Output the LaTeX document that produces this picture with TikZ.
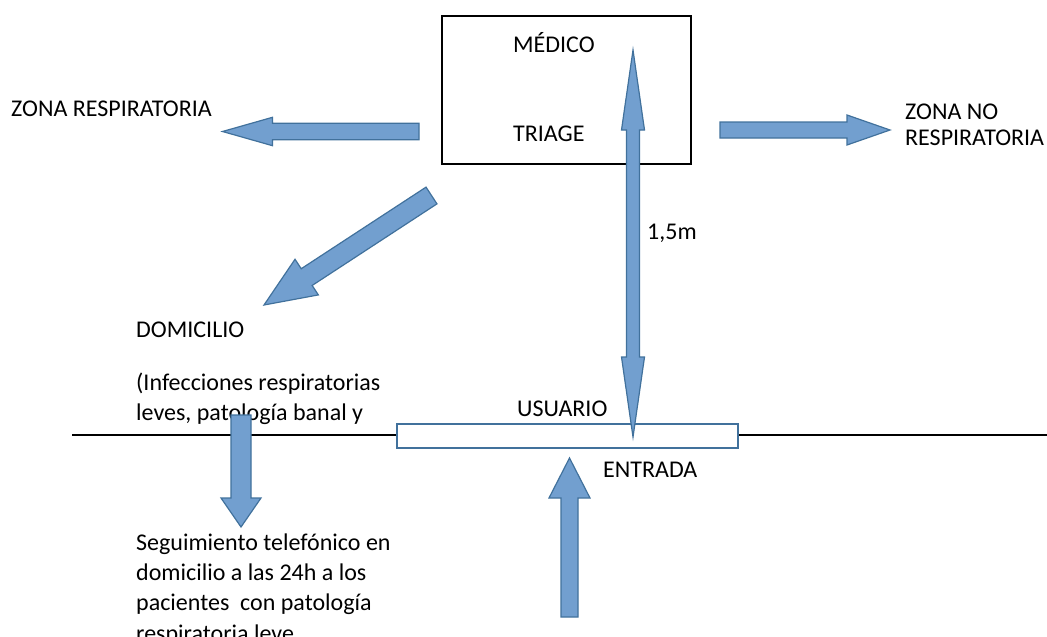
\documentclass[tikz,border=0pt]{standalone}
\usepackage{fontspec}
\setmainfont{Carlito}
\usetikzlibrary{calc}
\definecolor{arrfill}{HTML}{729FCF}
\definecolor{arrline}{HTML}{41719C}
\tikzset{
  lbl/.style={inner sep=0pt, anchor=base west, font=\fontsize{24}{29}\selectfont},
  barrow/.style={fill=arrfill, draw=arrline, line width=1.2pt, line join=miter},
  triagebox/.style={draw=black, line width=1.3pt, minimum width=249pt, minimum height=148pt, inner sep=0pt},
  entrybox/.style={draw=arrline, fill=white, line width=1.2pt, minimum width=341pt, minimum height=24pt, inner sep=0pt},
}
\newcommand\blockarrow[5]{%
  \coordinate (bhH) at ($(#2)!#5!(#1)$);
  \path[barrow] ($(#1)!#3!90:(#2)$) -- ($(bhH)!#3!90:(#2)$) -- ($(bhH)!#4!90:(#2)$) -- (#2)
    -- ($(bhH)!#4!-90:(#2)$) -- ($(bhH)!#3!-90:(#2)$) -- ($(#1)!#3!-90:(#2)$) -- cycle;}
\newcommand\dblarrow[5]{%
  \coordinate (dhA) at ($(#1)!#5!(#2)$);
  \coordinate (dhB) at ($(#2)!#5!(#1)$);
  \path[barrow] (#1) -- ($(dhA)!#4!90:(#2)$) -- ($(dhA)!#3!90:(#2)$) -- ($(dhB)!#3!-90:(#1)$)
    -- ($(dhB)!#4!-90:(#1)$) -- (#2) -- ($(dhB)!#4!90:(#1)$) -- ($(dhB)!#3!90:(#1)$)
    -- ($(dhA)!#3!-90:(#2)$) -- ($(dhA)!#4!-90:(#2)$) -- cycle;}
\begin{document}
\begin{tikzpicture}[x=1pt, y=-1pt]
\useasboundingbox (0,0) rectangle (1047,637);

% triage box
\node[triagebox] (triage) at (566.5,90) {};
\node[lbl] (medico) at (513,52) {MÉDICO};
\node[lbl] (triagetxt) at (513,141) {TRIAGE};

% side labels
\node[lbl] (zonaresp) at (11,116.5) {ZONA RESPIRATORIA};
\node[lbl] (zonano1) at (905,119) {ZONA NO};
\node[lbl] (zonano2) at (905,145) {RESPIRATORIA};
\node[lbl] (metro) at (647,239) {1,5m};

% domicilio block
\node[lbl] (domicilio) at (136,337) {DOMICILIO};
\node[lbl] (infec1) at (136,390) {(Infecciones respiratorias};
\node[lbl] (infec2) at (136,420) {leves, patología banal y};

% follow-up block
\node[lbl] (seg1) at (136,550) {Seguimiento telefónico en};
\node[lbl] (seg2) at (136,580) {domicilio a las 24h a los};
\node[lbl] (seg3) at (136,610.5) {pacientes\ \ con patología};
\node[lbl] (seg4) at (136,641) {respiratoria leve};

% wall line and entrance
\coordinate (wallL) at (72,435);
\coordinate (wallR) at (1047,435);
\draw[line width=1.3pt] (wallL) -- (wallR);
\node[entrybox] (puerta) at (567.5,436) {};
\node[lbl] (usuario) at (517,416.5) {USUARIO};
\node[lbl] (entrada) at (603,477) {ENTRADA};

% arrow end points
\coordinate (aLs) at (419,131.5);  \coordinate (aLe) at (222.5,131.5);
\coordinate (aRs) at (720,130);    \coordinate (aRe) at (890,130);
\coordinate (aDs) at (431.5,195.5); \coordinate (aDe) at (264,305);
\coordinate (aVs) at (633,50);     \coordinate (aVe) at (633,437);
\coordinate (aSs) at (241,415);    \coordinate (aSe) at (241,527);
\coordinate (aUs) at (569.5,617);  \coordinate (aUe) at (569.5,458);

\blockarrow{aLs}{aLe}{8.3pt}{14.2pt}{50pt}
\blockarrow{aRs}{aRe}{8pt}{15pt}{43pt}
\blockarrow{aDs}{aDe}{10pt}{21.3pt}{51pt}
\dblarrow{aVs}{aVe}{6.5pt}{11.5pt}{80pt}
\blockarrow{aSs}{aSe}{10pt}{20pt}{29pt}
\blockarrow{aUs}{aUe}{8.5pt}{20.5pt}{40pt}
\end{tikzpicture}
\end{document}
